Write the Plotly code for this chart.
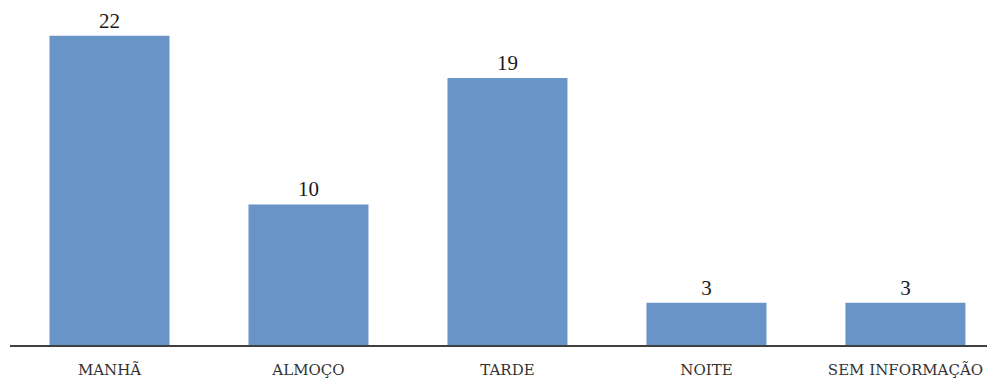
import plotly.graph_objects as go

categorias = ["MANHÃ", "ALMOÇO", "TARDE", "NOITE", "SEM INFORMAÇÃO"]
valores = [22, 10, 19, 3, 3]

fig = go.Figure()

fig.add_trace(go.Bar(x=categorias, y=valores, marker=dict(color='#6894c8', line=dict(width=0)),
                     text=[str(v) for v in valores], textposition='outside',
                     textfont=dict(family="Liberation Serif, serif", size=21, color='#1a1a1a'),
                     cliponaxis=False, showlegend=False))

# page has an 8px body margin, so the figure is a bit smaller than the window
fig.update_layout(
    width=987, height=372,
    margin=dict(l=2, r=0, t=0, b=35),
    plot_bgcolor='white', paper_bgcolor='white',
    bargap=0.397,
    xaxis=dict(range=[-0.5, 4.45], showline=True, linecolor='#404040', linewidth=2,
               ticks='outside', ticklen=10, tickcolor='white', showgrid=False, fixedrange=True,
               tickfont=dict(family="DejaVu Serif, serif", size=15, color='#333333')),
    yaxis=dict(range=[0, 23.98], visible=False, showgrid=False, fixedrange=True),
)

fig.write_html("out.html")
